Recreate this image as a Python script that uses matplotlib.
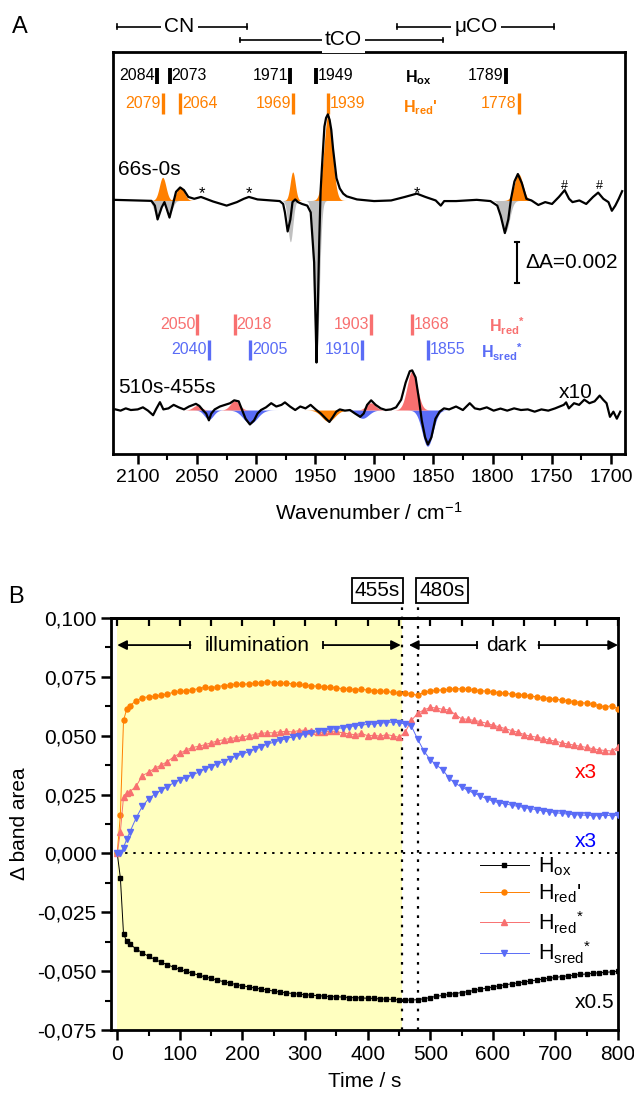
import numpy as np
import matplotlib
matplotlib.use("Agg")
import matplotlib.pyplot as plt
import matplotlib.transforms as mtransforms
from matplotlib.ticker import MultipleLocator, FuncFormatter

plt.rcParams["font.family"] = ["Liberation Sans", "DejaVu Sans"]
plt.rcParams["mathtext.fontset"] = "custom"
plt.rcParams["mathtext.rm"] = "Liberation Sans"
plt.rcParams["mathtext.it"] = "Liberation Sans:italic"
plt.rcParams["mathtext.bf"] = "Liberation Sans:bold"

ORANGE = "#FF8000"
GRAY = "#C0C0C0"
RED = "#F87070"
BLUE = "#5A6CF6"
YELLOW = "#FFFFC0"

# ---- panel A: difference spectra (values in mOD) ----
spec_light_wn = [2120.3, 2088.5, 2085.6, 2083.3, 2079.8, 2077.5, 2075.5, 2073.2, 2070.6, 2067.7,
                 2064.2, 2061.0, 2057.3, 2052.3, 2046.6, 2036.4, 2024.9, 2016.2, 2010.4, 2006.1,
                 1998.8, 1987.2, 1980.0, 1977.1, 1975.6, 1973.3, 1971.0, 1969.2, 1966.9, 1964.6,
                 1961.1, 1956.7, 1953.8, 1950.9, 1949.4, 1948.9, 1947.7, 1946.6, 1945.4, 1944.3,
                 1942.2, 1940.8, 1939.3, 1937.8, 1936.4, 1934.9, 1932.0, 1929.2, 1926.3, 1923.4,
                 1914.7, 1900.2, 1885.8, 1874.2, 1864.1, 1856.8, 1848.1, 1843.8, 1840.9, 1830.8,
                 1813.4, 1801.8, 1796.0, 1793.1, 1789.6, 1786.7, 1784.4, 1781.5, 1778.6, 1775.2,
                 1771.4, 1767.1, 1761.3, 1755.5, 1749.7, 1743.9, 1739.0, 1735.3, 1732.4, 1726.6,
                 1720.8, 1715.0, 1710.7, 1706.3, 1702.0, 1699.1, 1696.2, 1693.3, 1690.4]
spec_light_dA = [0.03, -0.02, -0.25, -0.92, -0.33, -0.08, -0.42, -0.83, -0.25, 0.42,
                 0.63, 0.50, 0.17, 0.08, 0.17, -0.05, -0.25, -0.08, 0.08, 0.17,
                 0.05, 0.00, -0.03, -0.17, -0.58, -1.50, -0.92, -0.08, 0.05, -0.08,
                 -0.17, -0.25, -0.58, -3.00, -6.50, -7.85, -5.00, -2.00, 0.50, 1.60,
                 3.58, 4.00, 4.17, 3.90, 3.42, 2.50, 1.08, 0.58, 0.33, 0.20,
                 0.05, -0.03, 0.00, 0.17, 0.33, 0.17, 0.00, -0.25, -0.03, -0.03,
                 0.03, -0.03, -0.25, -0.75, -1.58, -0.92, 0.08, 0.92, 1.28, 0.83,
                 0.08, 0.00, -0.22, -0.08, -0.17, 0.17, 0.50, 0.08, -0.08, 0.00,
                 -0.17, 0.17, 0.38, 0.08, -0.08, -0.50, -0.25, 0.08, 0.45]

# 510s-455s spectrum, already multiplied by 10
spec_dark_wn = [2118.9, 2114.6, 2110.2, 2105.9, 2100.1, 2095.7, 2091.4, 2087.1, 2084.2, 2081.3,
                2078.4, 2074.1, 2069.7, 2065.4, 2061.0, 2056.7, 2050.9, 2048.0, 2045.1, 2042.2,
                2039.9, 2037.9, 2035.0, 2030.6, 2026.3, 2022.0, 2018.5, 2014.7, 2011.8, 2008.9,
                2005.2, 2001.7, 1998.8, 1995.9, 1991.6, 1987.2, 1982.9, 1978.5, 1975.6, 1971.3,
                1966.9, 1962.6, 1958.2, 1953.9, 1949.6, 1945.2, 1940.9, 1938.0, 1935.0, 1932.2,
                1929.2, 1924.9, 1920.6, 1916.3, 1911.9, 1909.0, 1906.1, 1902.7, 1898.9, 1894.6,
                1890.3, 1885.9, 1881.6, 1877.3, 1873.5, 1870.0, 1868.0, 1865.1, 1862.2, 1859.9,
                1857.0, 1854.7, 1851.8, 1848.3, 1844.8, 1841.1, 1836.7, 1830.9, 1825.1, 1819.3,
                1815.0, 1810.7, 1804.9, 1799.1, 1793.3, 1787.6, 1781.8, 1776.0, 1770.2, 1764.4,
                1758.7, 1752.9, 1747.1, 1739.8, 1737.8, 1735.5, 1731.1, 1726.8, 1722.4, 1718.1,
                1713.7, 1709.4, 1706.5, 1703.6, 1700.7, 1697.8, 1694.9, 1692.0]
spec_dark_dA = [0.03, -0.03, 0.08, 0.00, 0.03, 0.13, -0.03, -0.25, 0.08, 0.38,
                0.03, 0.08, 0.25, 0.13, 0.03, 0.17, 0.30, 0.20, 0.00, -0.17,
                -0.50, -0.17, 0.03, 0.17, 0.25, 0.33, 0.47, 0.42, 0.00, -0.42,
                -0.70, -0.50, -0.17, 0.00, 0.13, 0.33, 0.17, 0.25, 0.37, 0.17,
                0.00, 0.17, 0.08, 0.25, 0.03, -0.17, -0.42, -0.58, -0.33, -0.08,
                0.03, -0.03, 0.00, -0.17, -0.33, -0.17, 0.25, 0.47, 0.25, 0.08,
                0.00, 0.03, 0.13, 0.50, 1.33, 1.88, 1.92, 1.58, 0.50, -0.50,
                -1.33, -1.67, -1.33, -0.42, -0.08, 0.08, 0.03, 0.17, 0.00, 0.33,
                0.08, 0.03, 0.13, -0.03, 0.07, -0.03, 0.08, 0.00, 0.03, -0.08,
                0.03, -0.03, 0.08, 0.25, 0.37, 0.08, 0.33, 0.25, 0.50, 0.33,
                0.42, 0.70, 0.50, 0.33, -0.33, -0.08, -0.42, -0.08]

# fitted band components: centre (cm-1), amplitude (mOD), fwhm (cm-1)
hredp_pos = ([2079, 2064, 1969, 1939, 1778], [1.12, 0.67, 1.38, 4.17, 1.28], [6.5, 7.5, 5.0, 8.5, 8.5])
hox_neg = ([2084, 2073, 1971, 1949, 1789], [-0.75, -0.60, -2.0, -7.85, -1.5], [6.0, 6.0, 5.0, 5.5, 8.0])
hred_star = ([2050, 2018, 1903, 1868], [0.22, 0.45, 0.35, 1.9], [8.0, 9.0, 9.0, 10.0])
hsred_star = ([2040, 2005, 1910, 1855], [-0.45, -0.65, -0.40, -1.75], [9.0, 14.0, 12.0, 11.0])
hredp_neg = ([1939], [-0.55], [13.0])

# band position labels
hox_labels = [2084, 2073, 1971, 1949, 1789]
hredp_labels = [2079, 2064, 1969, 1939, 1778]
hred_star_labels = [2050, 2018, 1903, 1868]
hsred_star_labels = [2040, 2005, 1910, 1855]

# ---- panel B: band area kinetics ----
time_s = [0, 5, 10, 15, 20, 30, 40, 50, 60, 70, 80, 90, 100, 110, 120, 130, 140, 150, 160, 170,
          180, 190, 200, 210, 220, 230, 240, 250, 260, 270, 280, 290, 300, 310, 320, 330, 340,
          350, 360, 370, 380, 390, 400, 410, 420, 430, 440, 450, 460, 470, 480, 490, 500, 510,
          520, 530, 540, 550, 560, 570, 580, 590, 600, 610, 620, 630, 640, 650, 660, 670, 680,
          690, 700, 710, 720, 730, 740, 750, 760, 770, 780, 790, 800]
area_hox = [0.0, -0.0105, -0.0342, -0.0372, -0.0385, -0.0405, -0.0422, -0.0437, -0.0450, -0.0462,
            -0.0473, -0.0483, -0.0493, -0.0501, -0.0509, -0.0517, -0.0524, -0.0531, -0.0538, -0.0545,
            -0.0551, -0.0557, -0.0562, -0.0567, -0.0572, -0.0576, -0.0580, -0.0585, -0.0589, -0.0592,
            -0.0595, -0.0598, -0.0600, -0.0602, -0.0604, -0.0606, -0.0608, -0.0609, -0.0610, -0.0612,
            -0.0613, -0.0614, -0.0615, -0.0616, -0.0618, -0.0619, -0.0620, -0.0622, -0.0623, -0.0623,
            -0.0621, -0.0617, -0.0612, -0.0607, -0.0603, -0.0599, -0.0595, -0.0591, -0.0587, -0.0582,
            -0.0577, -0.0572, -0.0567, -0.0562, -0.0558, -0.0554, -0.0550, -0.0546, -0.0542, -0.0538,
            -0.0534, -0.0530, -0.0527, -0.0523, -0.0520, -0.0517, -0.0514, -0.0512, -0.0509, -0.0507,
            -0.0505, -0.0503, -0.0501]
area_hredp = [0.0, 0.0165, 0.0565, 0.0612, 0.0628, 0.0648, 0.0662, 0.0665, 0.0667, 0.0672,
              0.0678, 0.0684, 0.0688, 0.0691, 0.0695, 0.0700, 0.0706, 0.0703, 0.0709, 0.0713,
              0.0715, 0.0720, 0.0718, 0.0721, 0.0723, 0.0725, 0.0730, 0.0726, 0.0724, 0.0722,
              0.0721, 0.0718, 0.0714, 0.0713, 0.0710, 0.0707, 0.0708, 0.0703, 0.0700, 0.0698,
              0.0696, 0.0697, 0.0694, 0.0692, 0.0690, 0.0688, 0.0684, 0.0680, 0.0682, 0.0678,
              0.0671, 0.0685, 0.0690, 0.0693, 0.0695, 0.0697, 0.0700, 0.0699, 0.0697, 0.0694,
              0.0692, 0.0689, 0.0686, 0.0683, 0.0680, 0.0677, 0.0675, 0.0672, 0.0669, 0.0665,
              0.0661, 0.0658, 0.0655, 0.0652, 0.0648, 0.0645, 0.0641, 0.0638, 0.0634, 0.0628,
              0.0622, 0.0628, 0.0614]
area_hred_star = [0.0, 0.0093, 0.0240, 0.0255, 0.0262, 0.0285, 0.0330, 0.0345, 0.0362, 0.0375,
                  0.0390, 0.0410, 0.0425, 0.0440, 0.0450, 0.0455, 0.0462, 0.0470, 0.0478, 0.0483,
                  0.0488, 0.0492, 0.0495, 0.0500, 0.0505, 0.0510, 0.0513, 0.0512, 0.0517, 0.0518,
                  0.0516, 0.0522, 0.0524, 0.0518, 0.0515, 0.0514, 0.0520, 0.0518, 0.0512, 0.0508,
                  0.0504, 0.0510, 0.0500, 0.0502, 0.0498, 0.0505, 0.0500, 0.0493, 0.0515, 0.0565,
                  0.0595, 0.0610, 0.0620, 0.0618, 0.0612, 0.0610, 0.0590, 0.0572, 0.0570, 0.0565,
                  0.0560, 0.0553, 0.0545, 0.0538, 0.0530, 0.0522, 0.0515, 0.0505, 0.0498, 0.0494,
                  0.0488, 0.0482, 0.0477, 0.0470, 0.0465, 0.0460, 0.0455, 0.0450, 0.0445, 0.0440,
                  0.0437, 0.0435, 0.0452]
area_hsred_star = [0.0, 0.0003, 0.0025, 0.0060, 0.0090, 0.0150, 0.0200, 0.0232, 0.0252, 0.0268,
                   0.0283, 0.0300, 0.0312, 0.0322, 0.0333, 0.0345, 0.0358, 0.0368, 0.0380, 0.0390,
                   0.0402, 0.0413, 0.0422, 0.0432, 0.0442, 0.0452, 0.0465, 0.0472, 0.0480, 0.0488,
                   0.0495, 0.0500, 0.0506, 0.0512, 0.0518, 0.0522, 0.0527, 0.0530, 0.0534, 0.0538,
                   0.0542, 0.0545, 0.0548, 0.0550, 0.0553, 0.0556, 0.0558, 0.0555, 0.0550, 0.0540,
                   0.0485, 0.0435, 0.0398, 0.0375, 0.0355, 0.0320, 0.0298, 0.0282, 0.0268, 0.0255,
                   0.0245, 0.0232, 0.0222, 0.0215, 0.0210, 0.0205, 0.0200, 0.0195, 0.0190, 0.0186,
                   0.0181, 0.0177, 0.0173, 0.0170, 0.0167, 0.0165, 0.0163, 0.0162, 0.0161, 0.0160,
                   0.0162, 0.0160, 0.0162]

LIGHT_OFF = 455
DARK_START = 480

TOP_OFFSET = 12.28   # baseline of the 66s-0s trace
LOW_OFFSET = 2.13    # baseline of the 510s-455s trace

fig = plt.figure(figsize=(6.34, 10.97), dpi=100)


def fill_bands(ax, bands, offset, color, wn):
    for c, a, w in zip(*bands):
        sigma = w / 2.355
        g = a * np.exp(-0.5 * ((wn - c) / sigma) ** 2)
        ax.fill_between(wn, offset, offset + g, color=color, lw=0, zorder=1)


def mark(ax, wn, yc, h, text, color, side, lw=2.4, size=11.5):
    trans = mtransforms.blended_transform_factory(ax.transData, ax.transAxes)
    ax.plot([wn, wn], [yc - h / 2, yc + h / 2], color=color, lw=lw, transform=trans,
            solid_capstyle="butt", clip_on=False)
    if side == "left":
        ax.text(wn + 1.5, yc, text, ha="right", va="center", color=color,
                fontsize=size, transform=trans)
    else:
        ax.text(wn - 1.5, yc, text, ha="left", va="center", color=color,
                fontsize=size, transform=trans)


# ======================= panel A =======================
axA = fig.add_axes([113 / 634, 1 - 454 / 1097, 512 / 634, 402 / 1097])
axA.set_xlim(2121, 1688)
axA.set_ylim(0, 19.47)
wn_grid = np.linspace(2121, 1688, 3000)

fill_bands(axA, hox_neg, TOP_OFFSET, GRAY, wn_grid)
fill_bands(axA, hredp_pos, TOP_OFFSET, ORANGE, wn_grid)
axA.plot(spec_light_wn, np.array(spec_light_dA) + TOP_OFFSET, color="black", lw=1.6, zorder=3)

fill_bands(axA, hredp_neg, LOW_OFFSET, ORANGE, wn_grid)
fill_bands(axA, hsred_star, LOW_OFFSET, BLUE, wn_grid)
fill_bands(axA, hred_star, LOW_OFFSET, RED, wn_grid)
axA.plot(spec_dark_wn, np.array(spec_dark_dA) + LOW_OFFSET, color="black", lw=1.6, zorder=3)

axA.text(2117, 13.8, "66s-0s", fontsize=15, ha="left", va="center")
axA.text(2117, 3.2, "510s-455s", fontsize=15, ha="left", va="center")
axA.text(1744, 3.0, "x10", fontsize=15, ha="left", va="center")
for x in [2046, 2006, 1864]:
    axA.text(x, 12.6, "*", fontsize=12, ha="center", va="center")
for x in [1739, 1710]:
    axA.text(x, 13.0, "#", fontsize=9, ha="center", va="center")

# scale bar
axA.plot([1779.5, 1779.5], [8.28, 10.27], color="black", lw=1.5)
axA.plot([1781, 1778], [8.28, 8.28], color="black", lw=1.5)
axA.plot([1781, 1778], [10.27, 10.27], color="black", lw=1.5)
axA.text(1772, 9.27, "ΔA=0.002", fontsize=15, ha="left", va="center")

# band labels
sides_hox = ["left", "right", "left", "right", "left"]
for wn, s in zip(hox_labels, sides_hox):
    mark(axA, wn, 0.941, 0.040, str(wn), "black", s, lw=2.8)
sides_hredp = ["left", "right", "left", "right", "left"]
for wn, s in zip(hredp_labels, sides_hredp):
    mark(axA, wn, 0.871, 0.052, str(wn), ORANGE, s)
sides_red = ["left", "right", "left", "right"]
for wn, s in zip(hred_star_labels, sides_red):
    mark(axA, wn, 0.323, 0.052, str(wn), RED, s)
for wn, s in zip(hsred_star_labels, sides_red):
    mark(axA, wn, 0.259, 0.048, str(wn), BLUE, s)

transA = mtransforms.blended_transform_factory(axA.transData, axA.transAxes)
axA.text(1863, 0.935, r"$\mathbf{H_{ox}}$", color="black", fontsize=11.5, ha="center",
         va="center", transform=transA)
axA.text(1861, 0.862, r"$\mathbf{H_{red}}$'", color=ORANGE, fontsize=11.5, ha="center",
         va="center", fontweight="bold", transform=transA)
axA.text(1788, 0.318, r"$\mathbf{H_{red}}$$^{\mathbf{*}}$", color=RED, fontsize=11.5,
         ha="center", va="center", transform=transA)
axA.text(1792, 0.254, r"$\mathbf{H_{sred}}$$^{\mathbf{*}}$", color=BLUE, fontsize=11.5,
         ha="center", va="center", transform=transA)

# region brackets above the frame
brackets = [("CN", 2117.5, 2008, 2064.7, 1.063),
            ("tCO", 2014, 1842, 1926, 1.030),
            ("μCO", 1881, 1748, 1814, 1.063)]
for name, x0, x1, xt, yb in brackets:
    axA.plot([x0, x1], [yb, yb], color="black", lw=1.2, transform=transA, clip_on=False)
    for xe in (x0, x1):
        axA.plot([xe, xe], [yb - 0.006, yb + 0.006], color="black", lw=1.2,
                 transform=transA, clip_on=False)
    axA.text(xt, yb, name, fontsize=15, ha="center", va="center", transform=transA,
             bbox=dict(boxstyle="square,pad=0.15", fc="white", ec="none"))

for sp in axA.spines.values():
    sp.set_linewidth(2.0)
axA.set_yticks([])
axA.xaxis.set_major_locator(MultipleLocator(50))
axA.xaxis.set_minor_locator(MultipleLocator(25))
axA.tick_params(axis="x", which="major", direction="out", length=7, width=1.8, labelsize=14)
axA.tick_params(axis="x", which="minor", direction="out", length=4, width=1.5)
axA.set_xlabel(r"Wavenumber / cm$^{\mathregular{-1}}$", fontsize=15, labelpad=12)

# ======================= panel B =======================
axB = fig.add_axes([111 / 634, 1 - 1030 / 1097, 507 / 634, 412 / 1097])
axB.set_xlim(-10, 800)
axB.set_ylim(-0.075, 0.100)
axB.axvspan(0, LIGHT_OFF, color=YELLOW, lw=0, zorder=0)
axB.hlines(0, 0, 800, colors="black", linestyles=(0, (1.2, 3.0)), lw=1.4, zorder=1)
for t in (LIGHT_OFF, DARK_START):
    axB.plot([t, t], [-0.075, 0.1064], color="black", ls=(0, (1.2, 3.0)), lw=1.6,
             clip_on=False, zorder=2)
axB.text(LIGHT_OFF - 3, 0.1075, "455s", fontsize=15, ha="right", va="bottom", clip_on=False,
         bbox=dict(boxstyle="square,pad=0.15", fc="white", ec="black", lw=1.3))
axB.text(DARK_START + 3, 0.1075, "480s", fontsize=15, ha="left", va="bottom", clip_on=False,
         bbox=dict(boxstyle="square,pad=0.15", fc="white", ec="black", lw=1.3))

series = [
    (area_hox, "black", "s", 3.0, r"H$_{\mathregular{ox}}$"),
    (area_hredp, ORANGE, "o", 3.6, r"H$_{\mathregular{red}}$'"),
    (area_hred_star, RED, "^", 4.5, r"H$_{\mathregular{red}}$$^{\mathregular{*}}$"),
    (area_hsred_star, BLUE, "v", 4.5, r"H$_{\mathregular{sred}}$$^{\mathregular{*}}$"),
]
for vals, col, mk, ms, lab in series:
    axB.plot(time_s, vals, color=col, lw=0.7, marker=mk, ms=ms, mec=col, mfc=col,
             label=lab, zorder=4)

# illumination / dark arrows
yarr = 0.0885
arrows = [(117, 0), (329, LIGHT_OFF - 2), (575, 466), (673, 800)]
for tail, head in arrows:
    axB.annotate("", xy=(head, yarr), xytext=(tail, yarr),
                 arrowprops=dict(arrowstyle="-|>", color="black", lw=1.3,
                                 mutation_scale=14, shrinkA=0, shrinkB=0))
    axB.plot([tail], [yarr], marker="|", ms=6, mew=1.3, color="black")
axB.text(224, yarr, "illumination", fontsize=15, ha="center", va="center")
axB.text(621, yarr, "dark", fontsize=15, ha="center", va="center")

axB.text(748, 0.0342, "x3", color="#FF0000", fontsize=15, ha="center", va="center")
axB.text(748, 0.0049, "x3", color="#0000FF", fontsize=15, ha="center", va="center")
axB.text(762, -0.0635, "x0.5", color="black", fontsize=15, ha="center", va="center")

leg = axB.legend(loc="upper left", bbox_to_anchor=(0.71, 0.445), frameon=False,
                 fontsize=15.5, handlelength=2.3, labelspacing=0.2, handletextpad=0.4,
                 borderaxespad=0)

for sp in axB.spines.values():
    sp.set_linewidth(2.0)
axB.xaxis.set_major_locator(MultipleLocator(100))
axB.xaxis.set_minor_locator(MultipleLocator(50))
axB.yaxis.set_major_locator(MultipleLocator(0.025))
axB.yaxis.set_minor_locator(MultipleLocator(0.0125))
axB.yaxis.set_major_formatter(FuncFormatter(lambda v, p: f"{v:.3f}".replace(".", ",")))
axB.tick_params(which="major", direction="out", length=7, width=1.8, labelsize=15)
axB.tick_params(which="minor", direction="out", length=4, width=1.5)
top = axB.secondary_xaxis("top")
top.xaxis.set_major_locator(MultipleLocator(50))
top.tick_params(direction="in", length=6, width=1.6, labeltop=False)
top.spines["top"].set_linewidth(2.0)
axB.set_xlabel("Time / s", fontsize=15, labelpad=6)
axB.set_ylabel("Δ band area", fontsize=15, labelpad=6)

fig.text(20 / 634, 1 - 27 / 1097, "A", fontsize=17, ha="center", va="center")
fig.text(16 / 634, 1 - 597 / 1097, "B", fontsize=17, ha="center", va="center")

fig.savefig("out.png", dpi=100)
